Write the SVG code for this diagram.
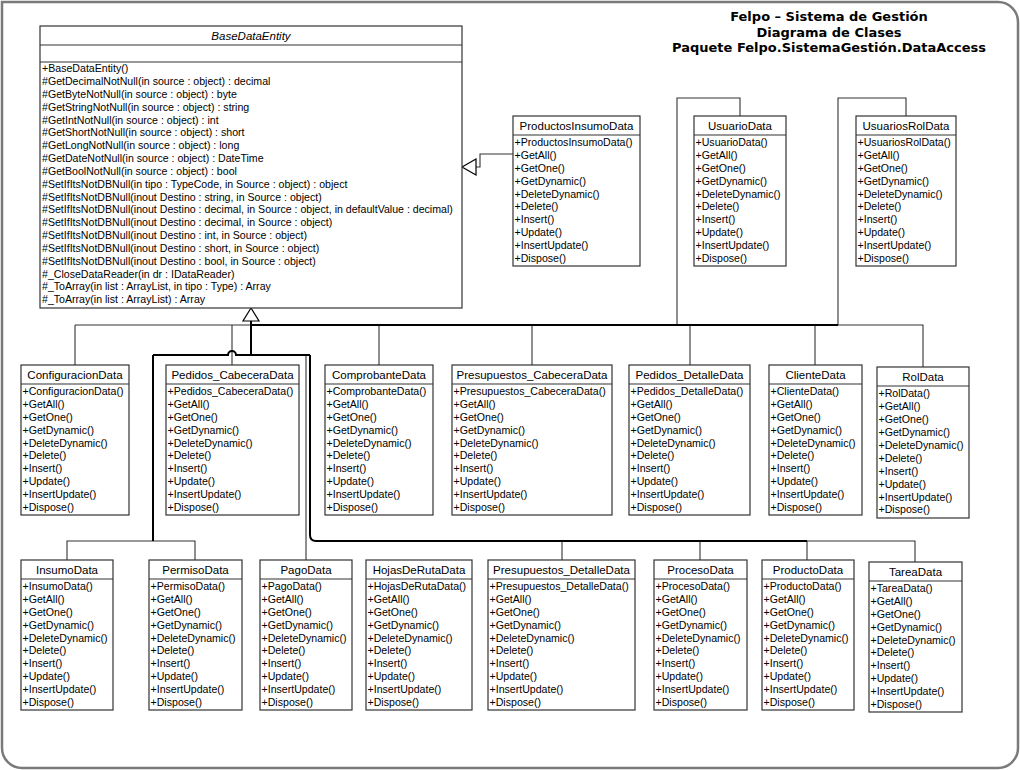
<svg xmlns="http://www.w3.org/2000/svg" width="1020" height="770" viewBox="0 0 1020 770">
<style>
.box{fill:#fff;stroke:#333;stroke-width:1.2}
.sep{stroke:#333;stroke-width:1.2}
.nm{font-family:"Liberation Sans",Arial,sans-serif;font-size:11.5px;text-anchor:middle;fill:#000}
.it{font-style:italic}
.op{font-family:"Liberation Sans",Arial,sans-serif;font-size:10.6px;fill:#000}
.thin{fill:none;stroke:#333;stroke-width:1.1}
.thick{fill:none;stroke:#000;stroke-width:2}
.tri{fill:#fff;stroke:#000;stroke-width:1.2}
.title{font-family:"DejaVu Sans",Verdana,sans-serif;font-size:13px;font-weight:bold;text-anchor:middle;fill:#000}
</style>
<rect x="0" y="0" width="1020" height="770" fill="#fff"/>
<path d="M2,2 H998 A20,20 0 0 1 1018,22 V748 A20,20 0 0 1 998,768 H22 A20,20 0 0 1 2,748 Z" fill="none" stroke="#7a7a7a" stroke-width="2.5"/>

<g id="title">
<text class="title" x="829" y="21">Felpo – Sistema de Gestión</text>
<text class="title" x="829" y="36.5">Diagrama de Clases</text>
<text class="title" x="829" y="52">Paquete Felpo.SistemaGestión.DataAccess</text>
</g>

<g id="connectors">
<path class="thin" d="M75,325 H251"/>
<path class="thin" d="M75,325 V365"/>
<path class="thin" d="M232,325 V365"/>
<path class="thin" d="M379,325 V365"/>
<path class="thin" d="M532,325 V365"/>
<path class="thin" d="M690,325 V365"/>
<path class="thin" d="M815,325 V365"/>
<path class="thin" d="M838,325 H923 V367"/>
<path class="thin" d="M677,325 V98 H740 V116"/>
<path class="thin" d="M838,325 V98 H906 V116"/>
<path class="thin" d="M513,154 H480 V167 H476"/>
<path class="thin" d="M67,560 V541 H195 V560"/>
<path class="thin" d="M306,355 V560"/>
<path class="thin" d="M807,541 H915 V562"/>
<path class="thin" d="M562,541 V560"/>
<path class="thin" d="M700,541 V560"/>
<path class="thin" d="M807,541 V560"/>
<path class="thick" d="M251,321 V355"/>
<path class="thick" d="M251,325 H838"/>
<path class="thick" d="M153,355 H228 a4,4 0 0 1 8,0 H310"/>
<path class="thick" d="M153,355 V541"/>
<path class="thick" d="M310,355 V535 Q310,541 316,541 H807"/>
<polygon class="tri" points="251,308 243,321 259,321"/>
<polygon class="tri" points="462,167 476,159 476,175"/>
</g>

<g id="BaseDataEntity" transform="translate(40,26)">
<rect class="box" x="0" y="0" width="422" height="282"/>
<line class="sep" x1="0" y1="19" x2="422" y2="19"/>
<line class="sep" x1="0" y1="36" x2="422" y2="36"/>
<text class="nm it" x="211" y="13.6">BaseDataEntity</text>
<text class="op">
<tspan x="2" y="46.3">+BaseDataEntity()</tspan>
<tspan x="2" dy="12.83">#GetDecimalNotNull(in source : object) : decimal</tspan>
<tspan x="2" dy="12.83">#GetByteNotNull(in source : object) : byte</tspan>
<tspan x="2" dy="12.83">#GetStringNotNull(in source : object) : string</tspan>
<tspan x="2" dy="12.83">#GetIntNotNull(in source : object) : int</tspan>
<tspan x="2" dy="12.83">#GetShortNotNull(in source : object) : short</tspan>
<tspan x="2" dy="12.83">#GetLongNotNull(in source : object) : long</tspan>
<tspan x="2" dy="12.83">#GetDateNotNull(in source : object) : DateTime</tspan>
<tspan x="2" dy="12.83">#GetBoolNotNull(in source : object) : bool</tspan>
<tspan x="2" dy="12.83">#SetIfItsNotDBNull(in tipo : TypeCode, in Source : object) : object</tspan>
<tspan x="2" dy="12.83">#SetIfItsNotDBNull(inout Destino : string, in Source : object)</tspan>
<tspan x="2" dy="12.83">#SetIfItsNotDBNull(inout Destino : decimal, in Source : object, in defaultValue : decimal)</tspan>
<tspan x="2" dy="12.83">#SetIfItsNotDBNull(inout Destino : decimal, in Source : object)</tspan>
<tspan x="2" dy="12.83">#SetIfItsNotDBNull(inout Destino : int, in Source : object)</tspan>
<tspan x="2" dy="12.83">#SetIfItsNotDBNull(inout Destino : short, in Source : object)</tspan>
<tspan x="2" dy="12.83">#SetIfItsNotDBNull(inout Destino : bool, in Source : object)</tspan>
<tspan x="2" dy="12.83">#_CloseDataReader(in dr : IDataReader)</tspan>
<tspan x="2" dy="12.83">#_ToArray(in list : ArrayList, in tipo : Type) : Array</tspan>
<tspan x="2" dy="12.83">#_ToArray(in list : ArrayList) : Array</tspan>
</text>
</g>

<g id="ProductosInsumoData" transform="translate(513,116)">
<rect class="box" width="127" height="150"/><line class="sep" x1="0" y1="19" x2="127" y2="19"/>
<text class="nm" x="63.5" y="13.6">ProductosInsumoData</text>
<text class="op"><tspan x="1.5" y="30.3">+ProductosInsumoData()</tspan><tspan x="1.5" dy="12.83">+GetAll()</tspan><tspan x="1.5" dy="12.83">+GetOne()</tspan><tspan x="1.5" dy="12.83">+GetDynamic()</tspan><tspan x="1.5" dy="12.83">+DeleteDynamic()</tspan><tspan x="1.5" dy="12.83">+Delete()</tspan><tspan x="1.5" dy="12.83">+Insert()</tspan><tspan x="1.5" dy="12.83">+Update()</tspan><tspan x="1.5" dy="12.83">+InsertUpdate()</tspan><tspan x="1.5" dy="12.83">+Dispose()</tspan></text>
</g>

<g id="UsuarioData" transform="translate(694,116)">
<rect class="box" width="92" height="150"/><line class="sep" x1="0" y1="19" x2="92" y2="19"/>
<text class="nm" x="46" y="13.6">UsuarioData</text>
<text class="op"><tspan x="1.5" y="30.3">+UsuarioData()</tspan><tspan x="1.5" dy="12.83">+GetAll()</tspan><tspan x="1.5" dy="12.83">+GetOne()</tspan><tspan x="1.5" dy="12.83">+GetDynamic()</tspan><tspan x="1.5" dy="12.83">+DeleteDynamic()</tspan><tspan x="1.5" dy="12.83">+Delete()</tspan><tspan x="1.5" dy="12.83">+Insert()</tspan><tspan x="1.5" dy="12.83">+Update()</tspan><tspan x="1.5" dy="12.83">+InsertUpdate()</tspan><tspan x="1.5" dy="12.83">+Dispose()</tspan></text>
</g>

<g id="UsuariosRolData" transform="translate(856,116)">
<rect class="box" width="100" height="150"/><line class="sep" x1="0" y1="19" x2="100" y2="19"/>
<text class="nm" x="50" y="13.6">UsuariosRolData</text>
<text class="op"><tspan x="1.5" y="30.3">+UsuariosRolData()</tspan><tspan x="1.5" dy="12.83">+GetAll()</tspan><tspan x="1.5" dy="12.83">+GetOne()</tspan><tspan x="1.5" dy="12.83">+GetDynamic()</tspan><tspan x="1.5" dy="12.83">+DeleteDynamic()</tspan><tspan x="1.5" dy="12.83">+Delete()</tspan><tspan x="1.5" dy="12.83">+Insert()</tspan><tspan x="1.5" dy="12.83">+Update()</tspan><tspan x="1.5" dy="12.83">+InsertUpdate()</tspan><tspan x="1.5" dy="12.83">+Dispose()</tspan></text>
</g>

<g id="ConfiguracionData" transform="translate(21,365)">
<rect class="box" width="108" height="150"/><line class="sep" x1="0" y1="19" x2="108" y2="19"/>
<text class="nm" x="54" y="13.6">ConfiguracionData</text>
<text class="op"><tspan x="1.5" y="30.3">+ConfiguracionData()</tspan><tspan x="1.5" dy="12.83">+GetAll()</tspan><tspan x="1.5" dy="12.83">+GetOne()</tspan><tspan x="1.5" dy="12.83">+GetDynamic()</tspan><tspan x="1.5" dy="12.83">+DeleteDynamic()</tspan><tspan x="1.5" dy="12.83">+Delete()</tspan><tspan x="1.5" dy="12.83">+Insert()</tspan><tspan x="1.5" dy="12.83">+Update()</tspan><tspan x="1.5" dy="12.83">+InsertUpdate()</tspan><tspan x="1.5" dy="12.83">+Dispose()</tspan></text>
</g>

<g id="Pedidos_CabeceraData" transform="translate(166,365)">
<rect class="box" width="133" height="150"/><line class="sep" x1="0" y1="19" x2="133" y2="19"/>
<text class="nm" x="66.5" y="13.6">Pedidos_CabeceraData</text>
<text class="op"><tspan x="1.5" y="30.3">+Pedidos_CabeceraData()</tspan><tspan x="1.5" dy="12.83">+GetAll()</tspan><tspan x="1.5" dy="12.83">+GetOne()</tspan><tspan x="1.5" dy="12.83">+GetDynamic()</tspan><tspan x="1.5" dy="12.83">+DeleteDynamic()</tspan><tspan x="1.5" dy="12.83">+Delete()</tspan><tspan x="1.5" dy="12.83">+Insert()</tspan><tspan x="1.5" dy="12.83">+Update()</tspan><tspan x="1.5" dy="12.83">+InsertUpdate()</tspan><tspan x="1.5" dy="12.83">+Dispose()</tspan></text>
</g>

<g id="ComprobanteData" transform="translate(325,365)">
<rect class="box" width="108" height="150"/><line class="sep" x1="0" y1="19" x2="108" y2="19"/>
<text class="nm" x="54" y="13.6">ComprobanteData</text>
<text class="op"><tspan x="1.5" y="30.3">+ComprobanteData()</tspan><tspan x="1.5" dy="12.83">+GetAll()</tspan><tspan x="1.5" dy="12.83">+GetOne()</tspan><tspan x="1.5" dy="12.83">+GetDynamic()</tspan><tspan x="1.5" dy="12.83">+DeleteDynamic()</tspan><tspan x="1.5" dy="12.83">+Delete()</tspan><tspan x="1.5" dy="12.83">+Insert()</tspan><tspan x="1.5" dy="12.83">+Update()</tspan><tspan x="1.5" dy="12.83">+InsertUpdate()</tspan><tspan x="1.5" dy="12.83">+Dispose()</tspan></text>
</g>

<g id="Presupuestos_CabeceraData" transform="translate(452,365)">
<rect class="box" width="160" height="150"/><line class="sep" x1="0" y1="19" x2="160" y2="19"/>
<text class="nm" x="80" y="13.6">Presupuestos_CabeceraData</text>
<text class="op"><tspan x="1.5" y="30.3">+Presupuestos_CabeceraData()</tspan><tspan x="1.5" dy="12.83">+GetAll()</tspan><tspan x="1.5" dy="12.83">+GetOne()</tspan><tspan x="1.5" dy="12.83">+GetDynamic()</tspan><tspan x="1.5" dy="12.83">+DeleteDynamic()</tspan><tspan x="1.5" dy="12.83">+Delete()</tspan><tspan x="1.5" dy="12.83">+Insert()</tspan><tspan x="1.5" dy="12.83">+Update()</tspan><tspan x="1.5" dy="12.83">+InsertUpdate()</tspan><tspan x="1.5" dy="12.83">+Dispose()</tspan></text>
</g>

<g id="Pedidos_DetalleData" transform="translate(629,365)">
<rect class="box" width="121" height="150"/><line class="sep" x1="0" y1="19" x2="121" y2="19"/>
<text class="nm" x="60.5" y="13.6">Pedidos_DetalleData</text>
<text class="op"><tspan x="1.5" y="30.3">+Pedidos_DetalleData()</tspan><tspan x="1.5" dy="12.83">+GetAll()</tspan><tspan x="1.5" dy="12.83">+GetOne()</tspan><tspan x="1.5" dy="12.83">+GetDynamic()</tspan><tspan x="1.5" dy="12.83">+DeleteDynamic()</tspan><tspan x="1.5" dy="12.83">+Delete()</tspan><tspan x="1.5" dy="12.83">+Insert()</tspan><tspan x="1.5" dy="12.83">+Update()</tspan><tspan x="1.5" dy="12.83">+InsertUpdate()</tspan><tspan x="1.5" dy="12.83">+Dispose()</tspan></text>
</g>

<g id="ClienteData" transform="translate(769,365)">
<rect class="box" width="93" height="150"/><line class="sep" x1="0" y1="19" x2="93" y2="19"/>
<text class="nm" x="46.5" y="13.6">ClienteData</text>
<text class="op"><tspan x="1.5" y="30.3">+ClienteData()</tspan><tspan x="1.5" dy="12.83">+GetAll()</tspan><tspan x="1.5" dy="12.83">+GetOne()</tspan><tspan x="1.5" dy="12.83">+GetDynamic()</tspan><tspan x="1.5" dy="12.83">+DeleteDynamic()</tspan><tspan x="1.5" dy="12.83">+Delete()</tspan><tspan x="1.5" dy="12.83">+Insert()</tspan><tspan x="1.5" dy="12.83">+Update()</tspan><tspan x="1.5" dy="12.83">+InsertUpdate()</tspan><tspan x="1.5" dy="12.83">+Dispose()</tspan></text>
</g>

<g id="RolData" transform="translate(877,367)">
<rect class="box" width="92" height="151"/><line class="sep" x1="0" y1="19" x2="92" y2="19"/>
<text class="nm" x="46" y="13.6">RolData</text>
<text class="op"><tspan x="1.5" y="30.3">+RolData()</tspan><tspan x="1.5" dy="12.9">+GetAll()</tspan><tspan x="1.5" dy="12.9">+GetOne()</tspan><tspan x="1.5" dy="12.9">+GetDynamic()</tspan><tspan x="1.5" dy="12.9">+DeleteDynamic()</tspan><tspan x="1.5" dy="12.9">+Delete()</tspan><tspan x="1.5" dy="12.9">+Insert()</tspan><tspan x="1.5" dy="12.9">+Update()</tspan><tspan x="1.5" dy="12.9">+InsertUpdate()</tspan><tspan x="1.5" dy="12.9">+Dispose()</tspan></text>
</g>

<g id="InsumoData" transform="translate(21,560)">
<rect class="box" width="92" height="150"/><line class="sep" x1="0" y1="19" x2="92" y2="19"/>
<text class="nm" x="46" y="13.6">InsumoData</text>
<text class="op"><tspan x="1.5" y="30.3">+InsumoData()</tspan><tspan x="1.5" dy="12.83">+GetAll()</tspan><tspan x="1.5" dy="12.83">+GetOne()</tspan><tspan x="1.5" dy="12.83">+GetDynamic()</tspan><tspan x="1.5" dy="12.83">+DeleteDynamic()</tspan><tspan x="1.5" dy="12.83">+Delete()</tspan><tspan x="1.5" dy="12.83">+Insert()</tspan><tspan x="1.5" dy="12.83">+Update()</tspan><tspan x="1.5" dy="12.83">+InsertUpdate()</tspan><tspan x="1.5" dy="12.83">+Dispose()</tspan></text>
</g>

<g id="PermisoData" transform="translate(149,560)">
<rect class="box" width="93" height="150"/><line class="sep" x1="0" y1="19" x2="93" y2="19"/>
<text class="nm" x="46.5" y="13.6">PermisoData</text>
<text class="op"><tspan x="1.5" y="30.3">+PermisoData()</tspan><tspan x="1.5" dy="12.83">+GetAll()</tspan><tspan x="1.5" dy="12.83">+GetOne()</tspan><tspan x="1.5" dy="12.83">+GetDynamic()</tspan><tspan x="1.5" dy="12.83">+DeleteDynamic()</tspan><tspan x="1.5" dy="12.83">+Delete()</tspan><tspan x="1.5" dy="12.83">+Insert()</tspan><tspan x="1.5" dy="12.83">+Update()</tspan><tspan x="1.5" dy="12.83">+InsertUpdate()</tspan><tspan x="1.5" dy="12.83">+Dispose()</tspan></text>
</g>

<g id="PagoData" transform="translate(260,560)">
<rect class="box" width="92" height="150"/><line class="sep" x1="0" y1="19" x2="92" y2="19"/>
<text class="nm" x="46" y="13.6">PagoData</text>
<text class="op"><tspan x="1.5" y="30.3">+PagoData()</tspan><tspan x="1.5" dy="12.83">+GetAll()</tspan><tspan x="1.5" dy="12.83">+GetOne()</tspan><tspan x="1.5" dy="12.83">+GetDynamic()</tspan><tspan x="1.5" dy="12.83">+DeleteDynamic()</tspan><tspan x="1.5" dy="12.83">+Delete()</tspan><tspan x="1.5" dy="12.83">+Insert()</tspan><tspan x="1.5" dy="12.83">+Update()</tspan><tspan x="1.5" dy="12.83">+InsertUpdate()</tspan><tspan x="1.5" dy="12.83">+Dispose()</tspan></text>
</g>

<g id="HojasDeRutaData" transform="translate(366,560)">
<rect class="box" width="106" height="150"/><line class="sep" x1="0" y1="19" x2="106" y2="19"/>
<text class="nm" x="53" y="13.6">HojasDeRutaData</text>
<text class="op"><tspan x="1.5" y="30.3">+HojasDeRutaData()</tspan><tspan x="1.5" dy="12.83">+GetAll()</tspan><tspan x="1.5" dy="12.83">+GetOne()</tspan><tspan x="1.5" dy="12.83">+GetDynamic()</tspan><tspan x="1.5" dy="12.83">+DeleteDynamic()</tspan><tspan x="1.5" dy="12.83">+Delete()</tspan><tspan x="1.5" dy="12.83">+Insert()</tspan><tspan x="1.5" dy="12.83">+Update()</tspan><tspan x="1.5" dy="12.83">+InsertUpdate()</tspan><tspan x="1.5" dy="12.83">+Dispose()</tspan></text>
</g>

<g id="Presupuestos_DetalleData" transform="translate(488,560)">
<rect class="box" width="147" height="150"/><line class="sep" x1="0" y1="19" x2="147" y2="19"/>
<text class="nm" x="73.5" y="13.6">Presupuestos_DetalleData</text>
<text class="op"><tspan x="1.5" y="30.3">+Presupuestos_DetalleData()</tspan><tspan x="1.5" dy="12.83">+GetAll()</tspan><tspan x="1.5" dy="12.83">+GetOne()</tspan><tspan x="1.5" dy="12.83">+GetDynamic()</tspan><tspan x="1.5" dy="12.83">+DeleteDynamic()</tspan><tspan x="1.5" dy="12.83">+Delete()</tspan><tspan x="1.5" dy="12.83">+Insert()</tspan><tspan x="1.5" dy="12.83">+Update()</tspan><tspan x="1.5" dy="12.83">+InsertUpdate()</tspan><tspan x="1.5" dy="12.83">+Dispose()</tspan></text>
</g>

<g id="ProcesoData" transform="translate(654,560)">
<rect class="box" width="93" height="150"/><line class="sep" x1="0" y1="19" x2="93" y2="19"/>
<text class="nm" x="46.5" y="13.6">ProcesoData</text>
<text class="op"><tspan x="1.5" y="30.3">+ProcesoData()</tspan><tspan x="1.5" dy="12.83">+GetAll()</tspan><tspan x="1.5" dy="12.83">+GetOne()</tspan><tspan x="1.5" dy="12.83">+GetDynamic()</tspan><tspan x="1.5" dy="12.83">+DeleteDynamic()</tspan><tspan x="1.5" dy="12.83">+Delete()</tspan><tspan x="1.5" dy="12.83">+Insert()</tspan><tspan x="1.5" dy="12.83">+Update()</tspan><tspan x="1.5" dy="12.83">+InsertUpdate()</tspan><tspan x="1.5" dy="12.83">+Dispose()</tspan></text>
</g>

<g id="ProductoData" transform="translate(762,560)">
<rect class="box" width="92" height="150"/><line class="sep" x1="0" y1="19" x2="92" y2="19"/>
<text class="nm" x="46" y="13.6">ProductoData</text>
<text class="op"><tspan x="1.5" y="30.3">+ProductoData()</tspan><tspan x="1.5" dy="12.83">+GetAll()</tspan><tspan x="1.5" dy="12.83">+GetOne()</tspan><tspan x="1.5" dy="12.83">+GetDynamic()</tspan><tspan x="1.5" dy="12.83">+DeleteDynamic()</tspan><tspan x="1.5" dy="12.83">+Delete()</tspan><tspan x="1.5" dy="12.83">+Insert()</tspan><tspan x="1.5" dy="12.83">+Update()</tspan><tspan x="1.5" dy="12.83">+InsertUpdate()</tspan><tspan x="1.5" dy="12.83">+Dispose()</tspan></text>
</g>

<g id="TareaData" transform="translate(869,562)">
<rect class="box" width="93" height="150"/><line class="sep" x1="0" y1="19" x2="93" y2="19"/>
<text class="nm" x="46.5" y="13.6">TareaData</text>
<text class="op"><tspan x="1.5" y="30.3">+TareaData()</tspan><tspan x="1.5" dy="12.83">+GetAll()</tspan><tspan x="1.5" dy="12.83">+GetOne()</tspan><tspan x="1.5" dy="12.83">+GetDynamic()</tspan><tspan x="1.5" dy="12.83">+DeleteDynamic()</tspan><tspan x="1.5" dy="12.83">+Delete()</tspan><tspan x="1.5" dy="12.83">+Insert()</tspan><tspan x="1.5" dy="12.83">+Update()</tspan><tspan x="1.5" dy="12.83">+InsertUpdate()</tspan><tspan x="1.5" dy="12.83">+Dispose()</tspan></text>
</g>
</svg>
